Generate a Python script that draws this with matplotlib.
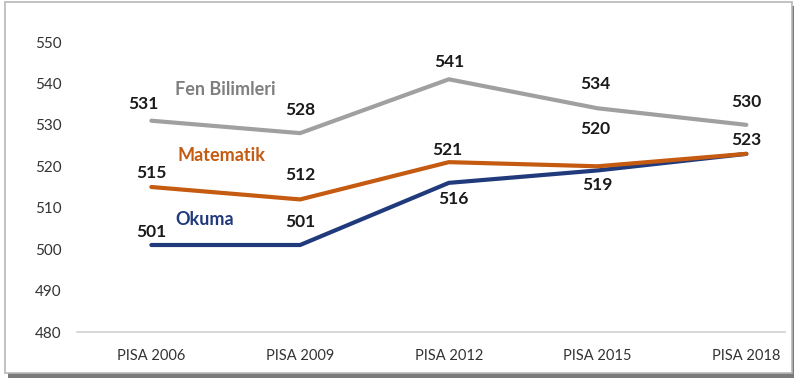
import matplotlib
matplotlib.use('Agg')
import matplotlib.pyplot as plt
from matplotlib.patches import Rectangle

plt.rcParams['font.family'] = ['Lato', 'DejaVu Sans']

# veriler
years = ['PISA 2006', 'PISA 2009', 'PISA 2012', 'PISA 2015', 'PISA 2018']
fen = [531, 528, 541, 534, 530]
matematik = [515, 512, 521, 520, 523]
okuma = [501, 501, 516, 519, 523]

# etiket kaymaları (piksel, x/y)
fen_off = [(-8, 17), (0, 23), (0, 17), (-2, 24), (0, 23)]
mat_off = [(0, 14), (0, 24), (-2, 12), (-2, 37), (0, 14)]
oku_off = [(0, 13), (0, 23), (5, -16), (0, -15), None]

c_fen = '#A0A0A0'
c_mat = '#C55A11'
c_oku = '#203A7C'

fig = plt.figure(figsize=(7.97, 3.80), dpi=100)
ax = fig.add_axes([77/797, 1-332/380, (785-77)/797, (332-42)/380])

x = range(len(years))
ax.plot(x, fen, color=c_fen, lw=3, solid_capstyle='round', zorder=3)
ax.plot(x, okuma, color=c_oku, lw=3, solid_capstyle='round', zorder=3)
ax.plot(x, matematik, color=c_mat, lw=3, solid_capstyle='round', zorder=4)

def etiket(vals, offs):
    for i, (v, o) in enumerate(zip(vals, offs)):
        if o is None:
            continue
        ax.annotate(str(v), (i, v), xytext=(o[0]*0.72, o[1]*0.72),
                    textcoords='offset points', ha='center', va='center',
                    fontsize=12.5, color='#1a1a1a', fontweight='bold')

etiket(fen, fen_off)
etiket(matematik, mat_off)
etiket(okuma, oku_off)

ax.text(0.5, 538.6, 'Fen Bilimleri', color='#7f7f7f', fontsize=13,
        fontweight='bold', ha='center', va='center')
ax.text(0.47, 522.5, 'Matematik', color=c_mat, fontsize=13,
        fontweight='bold', ha='center', va='center')
ax.text(0.36, 507.2, 'Okuma', color=c_oku, fontsize=13,
        fontweight='bold', ha='center', va='center')

ax.set_ylim(480, 550)
ax.set_yticks(range(480, 551, 10))
ax.set_xlim(-0.5, 4.26)
ax.set_xticks(list(x))
ax.set_xticklabels(years)
for s in ['top', 'right', 'left']:
    ax.spines[s].set_visible(False)
ax.spines['bottom'].set_color('#D0D0D0')
ax.spines['bottom'].set_linewidth(1.2)
ax.tick_params(axis='both', length=0, labelsize=11, colors='#333333')
ax.tick_params(axis='y', pad=11)
ax.tick_params(axis='x', pad=12)
ax.tick_params(axis='x', labelsize=10.5)

# çerçeve ve gölge
fig.patches.append(Rectangle((8/797, 1-378/380), 786/797, 372/380,
                             transform=fig.transFigure, facecolor='#7a7a7a',
                             edgecolor='none', zorder=-2))
fig.patches.append(Rectangle((5/797, 1-373/380), 787/797, 371/380,
                             transform=fig.transFigure, facecolor='white',
                             edgecolor='#B8B8B8', lw=1.2, zorder=-1))

fig.savefig('out.png', dpi=100)
